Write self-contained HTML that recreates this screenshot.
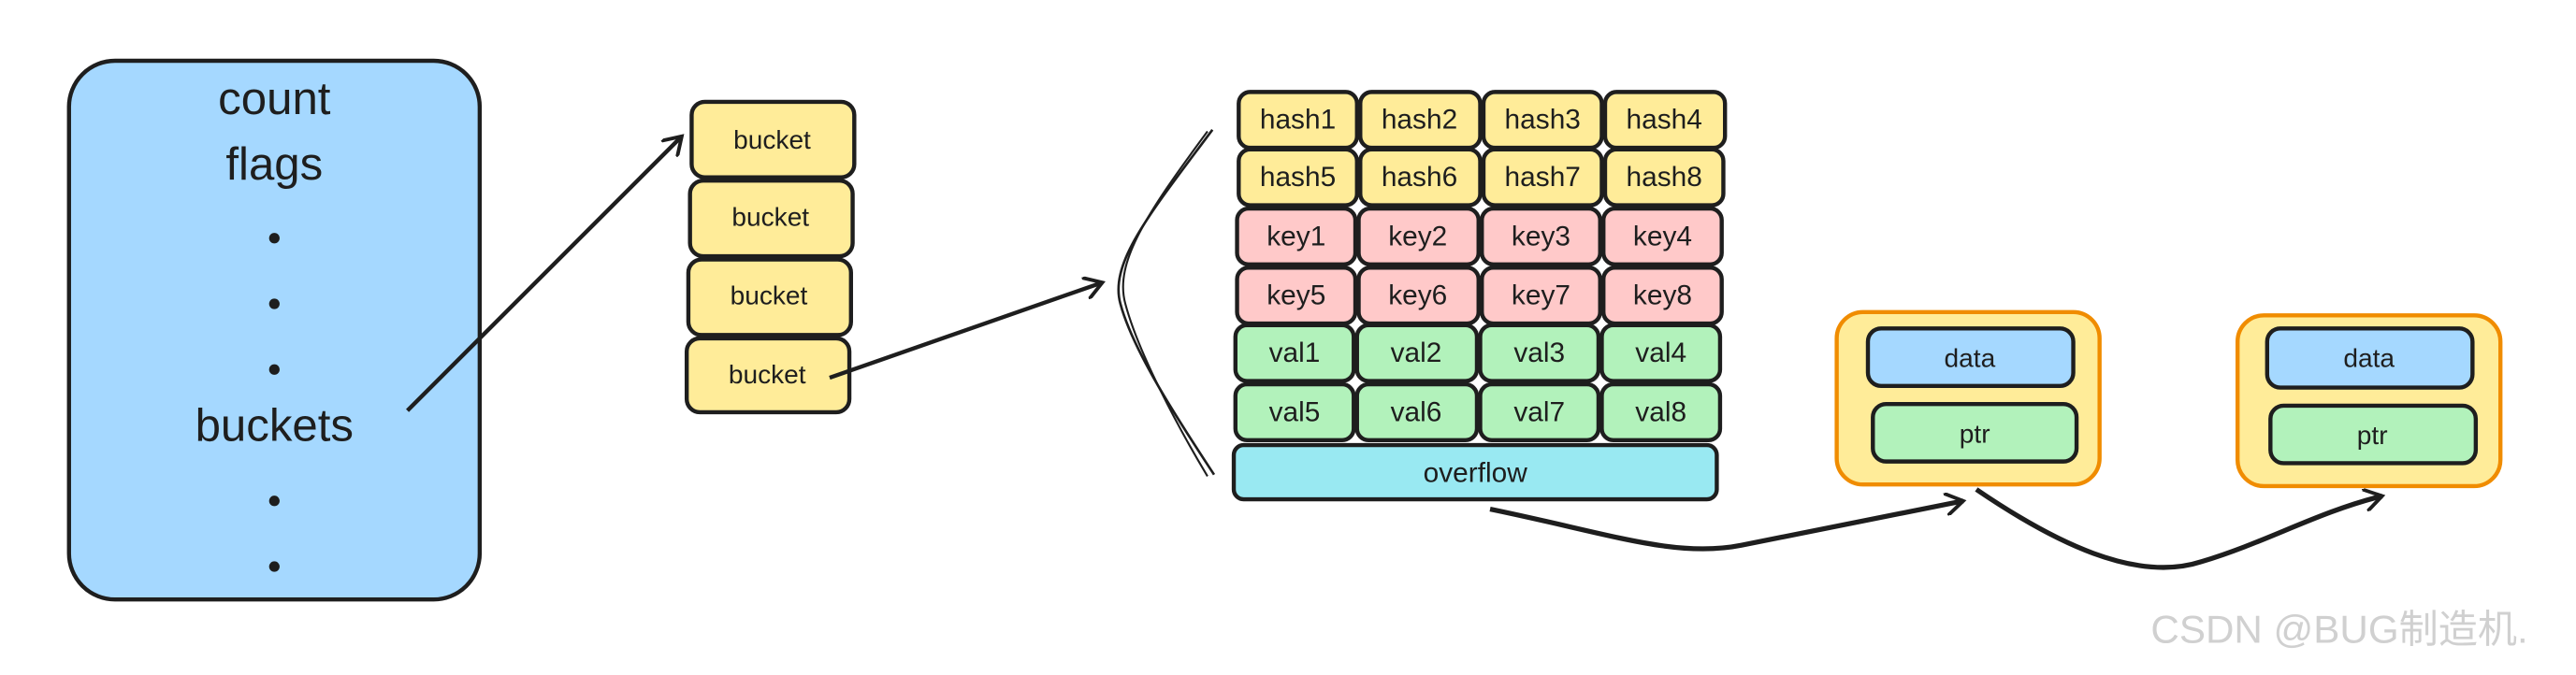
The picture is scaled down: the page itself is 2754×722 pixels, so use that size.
<!DOCTYPE html>
<html><head><meta charset="utf-8"><style>
html,body{margin:0;padding:0;background:#fff;}
svg{display:block}
text{font-family:"Liberation Sans","Noto Sans CJK SC",sans-serif;fill:#1e1e1e;text-anchor:middle;dominant-baseline:central}
</style></head><body>
<svg width="2754" height="722" viewBox="0 0 1568 411" preserveAspectRatio="none" xmlns="http://www.w3.org/2000/svg">
<defs>
<marker id="ah" markerWidth="14" markerHeight="14" refX="11" refY="7" orient="auto" markerUnits="userSpaceOnUse">
<path d="M0,0 L11,7 L0,14" fill="none" stroke="#1e1e1e" stroke-width="2.2"/>
</marker>
</defs>
<rect x="42" y="37" width="250" height="328" rx="28" fill="#a5d8ff" stroke="#1e1e1e" stroke-width="2.5"/>
<text x="167" y="60" font-size="28">count</text>
<text x="167" y="100" font-size="28">flags</text>
<g fill="#1e1e1e"><circle cx="167" cy="145" r="3.2"/><circle cx="167" cy="185" r="3.2"/><circle cx="167" cy="225" r="3.2"/><circle cx="167" cy="305" r="3.2"/><circle cx="167" cy="345" r="3.2"/></g>
<text x="167" y="259" font-size="28">buckets</text>
<g stroke="#1e1e1e" stroke-width="2.5" fill="#ffec99">
<rect x="421" y="62" width="99" height="46" rx="8"/>
<rect x="420" y="110" width="99" height="46" rx="8"/>
<rect x="419" y="158" width="99" height="46" rx="8"/>
<rect x="418" y="206" width="99" height="45" rx="8"/>
</g>
<g font-size="16"><text x="470" y="85">bucket</text><text x="469" y="132">bucket</text><text x="468" y="180">bucket</text><text x="467" y="228">bucket</text></g>
<g stroke="#1e1e1e" stroke-width="2.5" fill="none" marker-end="url(#ah)">
<line x1="248" y1="250" x2="415" y2="83"/>
<line x1="505" y1="230" x2="671" y2="172"/>
<path d="M907,310 C980,325 1020,340 1060,332 C1110,322 1160,312 1195,305" stroke-width="3"/>
<path d="M1203,298 C1250,330 1300,355 1340,342 C1380,330 1410,312 1450,302" stroke-width="3"/>
</g>
<path d="M738,79 C700,130 675,160 682,185 C690,215 720,260 739,289" fill="none" stroke="#1e1e1e" stroke-width="1.5"/>
<path d="M735,80 C698,130 678,160 685,185 C693,215 717,260 735,290" fill="none" stroke="#1e1e1e" stroke-width="1.2"/>
<g stroke="#1e1e1e" stroke-width="2.5">
<g fill="#ffec99">
<rect x="754" y="56" width="72" height="34" rx="7"/><rect x="828" y="56" width="73" height="34" rx="7"/><rect x="903" y="56" width="72" height="34" rx="7"/><rect x="977" y="56" width="73" height="34" rx="7"/>
<rect x="754" y="91" width="72" height="34" rx="7"/><rect x="828" y="91" width="73" height="34" rx="7"/><rect x="903" y="91" width="72" height="34" rx="7"/><rect x="977" y="91" width="72" height="34" rx="7"/>
</g>
<g fill="#ffc9c9">
<rect x="753" y="127" width="72" height="34" rx="7"/><rect x="827" y="127" width="73" height="34" rx="7"/><rect x="902" y="127" width="72" height="34" rx="7"/><rect x="976" y="127" width="72" height="34" rx="7"/>
<rect x="753" y="163" width="72" height="34" rx="7"/><rect x="827" y="163" width="73" height="34" rx="7"/><rect x="902" y="163" width="72" height="34" rx="7"/><rect x="976" y="163" width="72" height="34" rx="7"/>
</g>
<g fill="#b2f2bb">
<rect x="752" y="198" width="72" height="34" rx="7"/><rect x="826" y="198" width="73" height="34" rx="7"/><rect x="901" y="198" width="72" height="34" rx="7"/><rect x="975" y="198" width="72" height="34" rx="7"/>
<rect x="752" y="234" width="72" height="34" rx="7"/><rect x="826" y="234" width="73" height="34" rx="7"/><rect x="901" y="234" width="72" height="34" rx="7"/><rect x="975" y="234" width="72" height="34" rx="7"/>
</g>
<rect x="751" y="271" width="294" height="33" rx="6" fill="#99e9f2"/>
</g>
<g font-size="17">
<text x="790" y="73">hash1</text><text x="864" y="73">hash2</text><text x="939" y="73">hash3</text><text x="1013" y="73">hash4</text>
<text x="790" y="108">hash5</text><text x="864" y="108">hash6</text><text x="939" y="108">hash7</text><text x="1013" y="108">hash8</text>
<text x="789" y="144">key1</text><text x="863" y="144">key2</text><text x="938" y="144">key3</text><text x="1012" y="144">key4</text>
<text x="789" y="180">key5</text><text x="863" y="180">key6</text><text x="938" y="180">key7</text><text x="1012" y="180">key8</text>
<text x="788" y="215">val1</text><text x="862" y="215">val2</text><text x="937" y="215">val3</text><text x="1011" y="215">val4</text>
<text x="788" y="251">val5</text><text x="862" y="251">val6</text><text x="937" y="251">val7</text><text x="1011" y="251">val8</text>
<text x="898" y="288">overflow</text>
</g>
<g stroke-width="2.5">
<rect x="1118" y="190" width="160" height="105" rx="16" fill="#ffec99" stroke="#f08c00"/>
<rect x="1137" y="200" width="125" height="35" rx="8" fill="#a5d8ff" stroke="#1e1e1e"/>
<rect x="1140" y="246" width="124" height="35" rx="8" fill="#b2f2bb" stroke="#1e1e1e"/>
<rect x="1362" y="192" width="160" height="104" rx="16" fill="#ffec99" stroke="#f08c00"/>
<rect x="1380" y="200" width="125" height="36" rx="8" fill="#a5d8ff" stroke="#1e1e1e"/>
<rect x="1382" y="247" width="125" height="35" rx="8" fill="#b2f2bb" stroke="#1e1e1e"/>
</g>
<g font-size="16">
<text x="1199" y="218">data</text><text x="1202" y="264">ptr</text>
<text x="1442" y="218">data</text><text x="1444" y="265">ptr</text>
</g>
<text x="1424" y="383" font-size="24" style="fill:#d0d0d0">CSDN @BUG制造机.</text>
</svg>
</body></html>
